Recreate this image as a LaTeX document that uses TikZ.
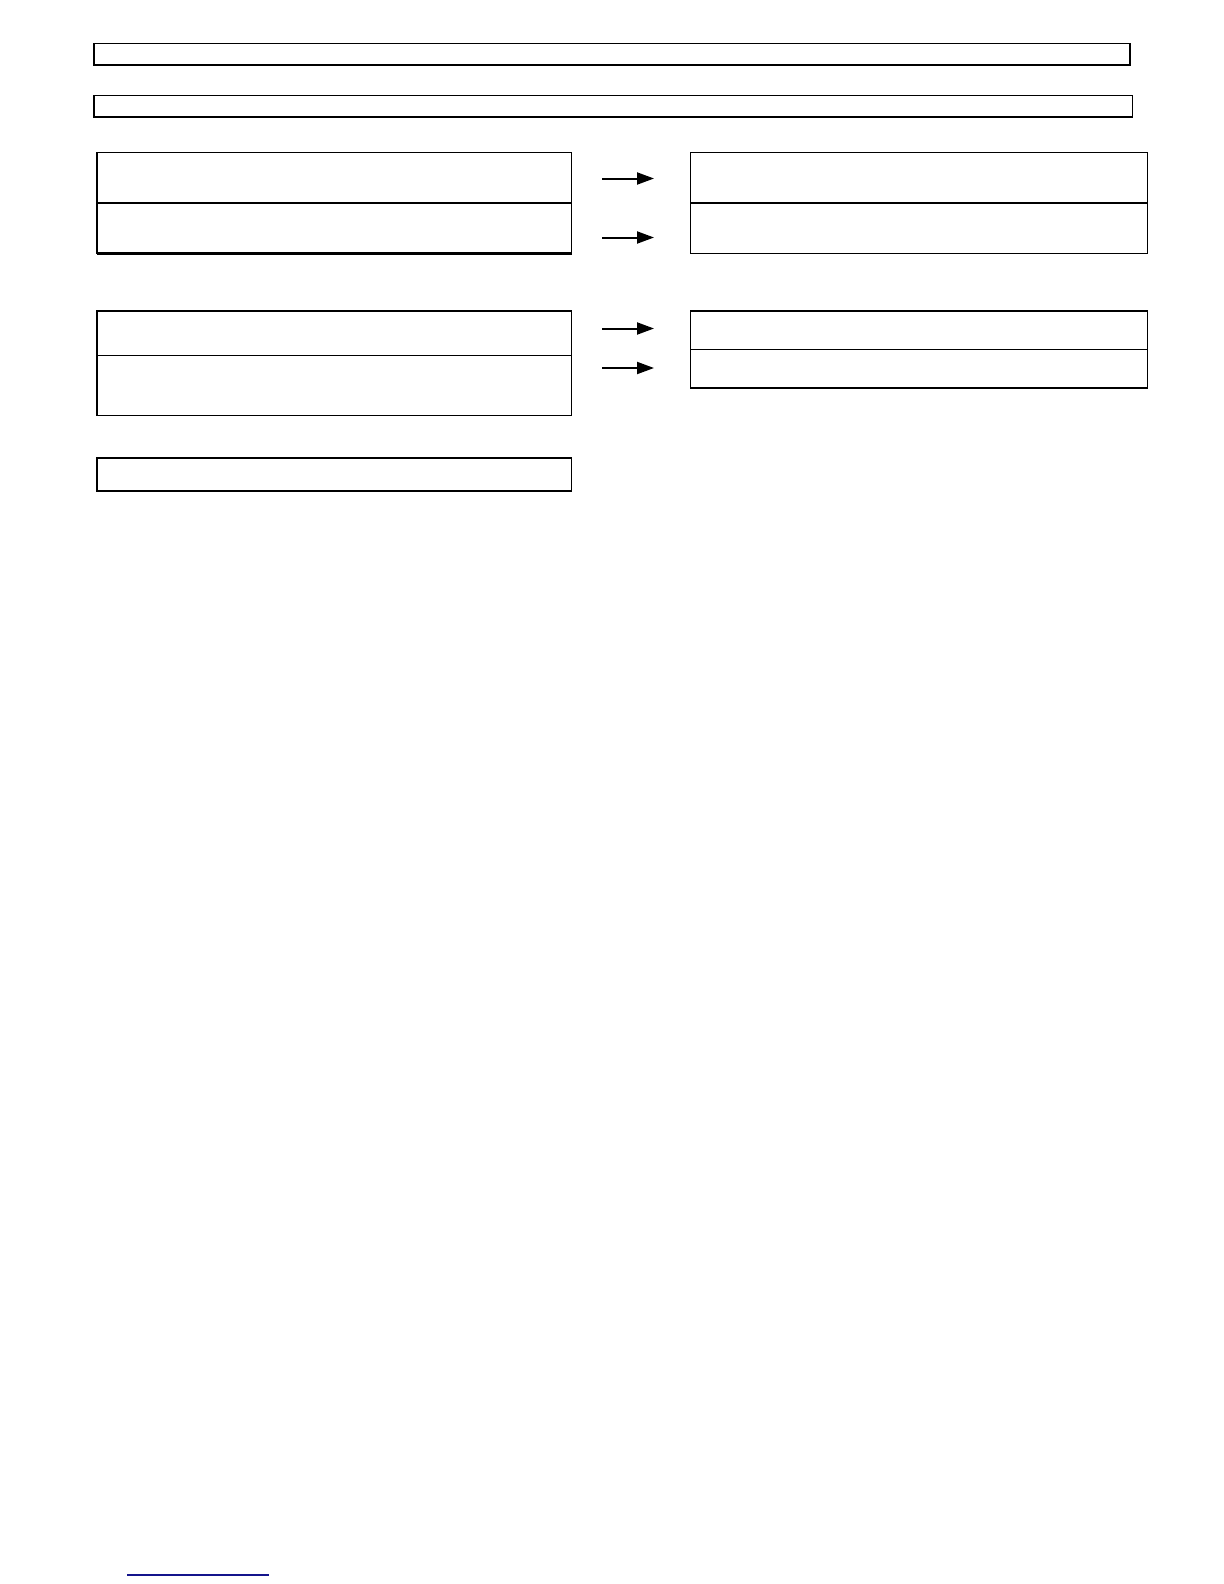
\documentclass[tikz,border=0pt]{standalone}
\usetikzlibrary{arrows.meta}
\definecolor{linkblue}{RGB}{20,20,140}
\begin{document}
\begin{tikzpicture}[x=0.5pt,y=-0.5pt,
  box/.style={draw=black,line width=0.75pt,rectangle,inner sep=0pt,outer sep=0pt,anchor=north west},
  heavy/.style={draw=black,line width=1.4pt},
  flow/.style={draw=black,line width=1pt,-{Triangle[length=8.5pt,width=6pt]}}]
\useasboundingbox (0,0) rectangle (1224,1584);
% header boxes
\node[box,minimum width=518pt,minimum height=10.75pt] (h1) at (94,43.5) {};
\node[box,minimum width=519.25pt,minimum height=10.75pt] (h2) at (94,95.5) {};
% first group
\node[box,minimum width=237.25pt,minimum height=25.25pt] (A) at (97,152.5) {};
\node[box,minimum width=237.25pt,minimum height=25.25pt] (B) at (97,203) {};
\node[box,minimum width=228.5pt,minimum height=25.25pt] (C) at (690.5,152.5) {};
\node[box,minimum width=228.5pt,minimum height=25.25pt] (D) at (690.5,203) {};
\draw[heavy] (A.south west) -- (A.south east);
\draw[heavy] (B.south west) -- (B.south east);
\draw[heavy] (C.south west) -- (C.south east);
% second group
\node[box,minimum width=237.25pt,minimum height=22.25pt] (E) at (97,311) {};
\node[box,minimum width=237.25pt,minimum height=30pt] (F) at (97,355.5) {};
\node[box,minimum width=228.5pt,minimum height=19.25pt] (G) at (690.5,311) {};
\node[box,minimum width=228.5pt,minimum height=19.25pt] (H) at (690.5,349.5) {};
\draw[heavy] (E.north west) -- (E.north east);
\draw[heavy] (G.north west) -- (G.north east);
\draw[heavy] (H.south west) -- (H.south east);
% last box
\node[box,minimum width=237.25pt,minimum height=16.5pt] (I) at (97,458) {};
\draw[heavy] (I.north west) -- (I.north east);
% arrows
\coordinate (a1s) at (602,178.5); \coordinate (a1e) at (654,178.5);
\coordinate (a2s) at (602,237.5); \coordinate (a2e) at (654,237.5);
\coordinate (a3s) at (602,328.5); \coordinate (a3e) at (654,328.5);
\coordinate (a4s) at (602,368); \coordinate (a4e) at (654,368);
\draw[flow] (a1s) -- (a1e);
\draw[flow] (a2s) -- (a2e);
\draw[flow] (a3s) -- (a3e);
\draw[flow] (a4s) -- (a4e);
% footer rule
\coordinate (fl) at (127,1575); \coordinate (fr) at (269,1575);
\draw[linkblue,line width=0.8pt] (fl) -- (fr);
\end{tikzpicture}
\end{document}
